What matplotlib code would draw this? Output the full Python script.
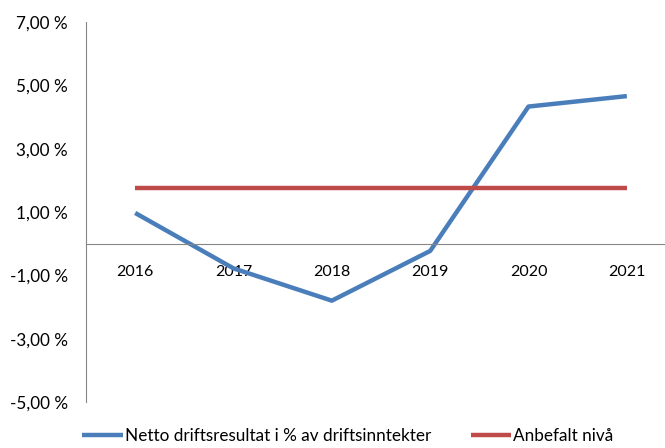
import matplotlib.pyplot as plt
from matplotlib.ticker import FuncFormatter

years = ['2016', '2017', '2018', '2019', '2020', '2021']
netto = [0.97, -0.78, -1.80, -0.23, 4.33, 4.66]
anbefalt = [1.75, 1.75, 1.75, 1.75, 1.75, 1.75]
yticks = [-5, -3, -1, 1, 3, 5, 7]

plt.rcParams['font.family'] = ['Lato', 'DejaVu Sans']

fig = plt.figure(figsize=(6.65, 4.48), dpi=100)
# axis spans past the right edge of the picture, as in the original
ax = fig.add_axes([86 / 665, 46 / 448, 590 / 665, 380 / 448])

x = list(range(len(years)))
ax.plot(x, netto, color='#4a7ebb', lw=3.2, solid_capstyle='butt',
        label='Netto driftsresultat i % av driftsinntekter')
ax.plot(x, anbefalt, color='#be4b48', lw=3.2, solid_capstyle='butt',
        label='Anbefalt nivå')

ax.set_xlim(-0.5, 5.5)
ax.set_ylim(-5, 7)
ax.set_yticks(yticks)
ax.yaxis.set_major_formatter(FuncFormatter(lambda v, p: f'{v:.2f} %'.replace('.', ',')))
ax.set_xticks(x)
ax.set_xticklabels(years)

for s in ['top', 'right']:
    ax.spines[s].set_visible(False)
ax.spines['bottom'].set_position(('data', 0))
ax.spines['left'].set_color('#868686')
ax.spines['bottom'].set_color('#868686')
ax.tick_params(axis='both', length=0, colors='black')
ax.tick_params(axis='x', pad=15, labelsize=11.5)
ax.tick_params(axis='y', pad=13, labelsize=12.3)

fig.legend(loc='lower left', bbox_to_anchor=(67 / 665, -0.025), ncol=2,
           frameon=False, fontsize=12.3, handlelength=2.35, handletextpad=0.15,
           columnspacing=2.3)

fig.savefig('out.png', dpi=100)
